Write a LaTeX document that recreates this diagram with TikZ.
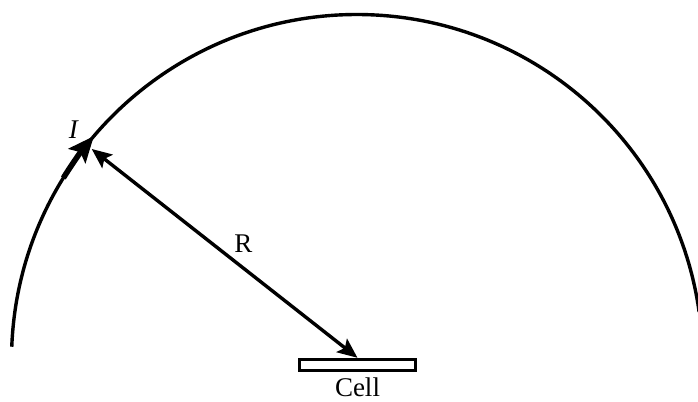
\documentclass[tikz,border=0pt]{standalone}
\usepackage{fontspec}
\setmainfont{Liberation Serif}
\usetikzlibrary{arrows.meta,calc,positioning}
\begin{document}
\begin{tikzpicture}[x=0.5pt,y=0.5pt,
    wire/.style={line width=1.7pt},
    lbl/.style={font=\fontsize{13.5}{16}\selectfont,inner sep=0pt}]
    \useasboundingbox (0,0) rectangle (698,402);
    \clip (0,0) rectangle (698,402);
    \def\rad{345.5}
    \coordinate (O) at (357,42);
    % field line round the cell
    \draw[wire] ($(O)+(177.8:\rad)$) arc[start angle=177.8,end angle=8,radius=\rad];
    % current element
    \coordinate (Istart) at ($(O)+(148.2:\rad)$);
    \draw[line width=2.8pt,-{Stealth[length=13pt,width=11pt,inset=2.5pt]}]
        (Istart) arc[start angle=148.2,end angle=139.6,radius=\rad];
    \node[lbl] (lblI) at (74,272) {\textit{I}};
    % cell and distance
    \node[draw,wire,minimum width=58pt,minimum height=5.5pt,inner sep=0pt] (cell) at (357.5,37) {};
    \node[lbl,below=2.5pt of cell] (lblCell) {Cell};
    \coordinate (P) at ($(O)+(141.5:339)$);
    \draw[wire,{Stealth[length=10pt,width=8.5pt,inset=2pt]}-{Stealth[length=10pt,width=8.5pt,inset=2pt]}] (P) -- (cell.north);
    \node[lbl] (lblR) at (243.5,158) {R};
\end{tikzpicture}
\end{document}
